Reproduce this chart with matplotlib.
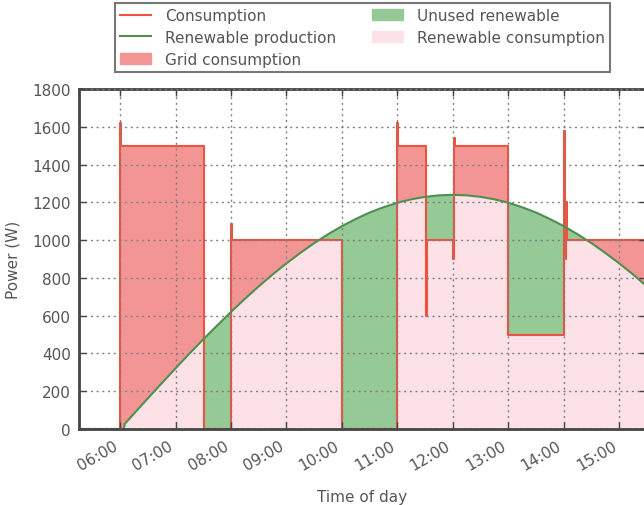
import numpy as np
import matplotlib
matplotlib.use("Agg")
import matplotlib.pyplot as plt
from matplotlib.lines import Line2D
from matplotlib.patches import Patch

# ---- data ----
cons_times = ["05:15", "06:00", "06:01", "07:31", "08:00", "08:01", "10:00",
              "11:00", "11:01", "11:31", "11:32", "12:00", "12:01", "12:02",
              "13:00", "14:00", "14:01", "14:02", "14:03", "15:30"]
cons_values = [0, 1620, 1500, 0, 1085, 1000, 0,
               1620, 1500, 600, 1000, 900, 1540, 1500,
               500, 1580, 900, 1200, 1000, 1000]

prod_times = ["05:15", "06:04", "06:05", "06:15", "06:30", "06:45", "07:00",
              "07:15", "07:30", "07:45", "08:00", "08:15", "08:30", "08:45",
              "09:00", "09:15", "09:30", "09:45", "10:00", "10:15", "10:30",
              "10:45", "11:00", "11:15", "11:30", "11:45", "12:00", "12:15",
              "12:30", "12:45", "13:00", "13:15", "13:30", "13:45", "14:00",
              "14:15", "14:30", "14:45", "15:00", "15:15", "15:30"]
prod_values = [0, 0, 27, 81, 162, 242, 321,
               399, 475, 548, 620, 689, 755, 818,
               877, 932, 984, 1031, 1074, 1112, 1146,
               1174, 1198, 1216, 1229, 1237, 1240, 1237,
               1229, 1216, 1198, 1174, 1146, 1112, 1074,
               1031, 984, 932, 877, 818, 755]

hour_ticks = ["06:00", "07:00", "08:00", "09:00", "10:00",
              "11:00", "12:00", "13:00", "14:00", "15:00"]
y_ticks = [0, 200, 400, 600, 800, 1000, 1200, 1400, 1600, 1800]


def to_h(s):
    h, m = s.split(":")
    return int(h) + int(m) / 60.0


ct = np.array([to_h(s) for s in cons_times])
cv = np.array(cons_values, dtype=float)
pt = np.array([to_h(s) for s in prod_times])
pv = np.array(prod_values, dtype=float)

# common fine grid for the fills
g = np.arange(ct[0], ct[-1] + 1e-9, 1 / 600.0)
g = np.union1d(g, ct)
idx = np.clip(np.searchsorted(ct, g, side="right") - 1, 0, len(cv) - 1)
c = cv[idx]
p = np.interp(g, pt, pv)

# ---- colours ----
TEXT = "#555555"
SPINE = "#444444"
RED_LINE = "#EE5340"
GREEN_LINE = "#4E8F50"
RED_FILL = "#F49595"
GREEN_FILL = "#95C995"
PINK_FILL = "#FCE1E6"

plt.rcParams["font.family"] = ["DejaVu Sans"]
plt.rcParams["font.size"] = 11

fig = plt.figure(figsize=(6.44, 5.06), dpi=100)
ax = fig.add_axes([79 / 644, (506 - 430) / 506, (646 - 79) / 644, 340 / 506])

ax.fill_between(g, 0, np.minimum(c, p), color=PINK_FILL, lw=0)
ax.fill_between(g, p, c, where=c >= p, interpolate=True, color=RED_FILL, lw=0)
ax.fill_between(g, c, p, where=p >= c, interpolate=True, color=GREEN_FILL, lw=0)

ax.step(ct, cv, where="post", color=RED_LINE, lw=1.5)
ax.plot(pt, pv, color=GREEN_LINE, lw=1.5)

ax.set_xlim(to_h("05:15") + 0.009, to_h("15:29"))
ax.set_ylim(0, 1800)
ax.set_xticks([to_h(s) for s in hour_ticks])
ax.set_xticklabels(hour_ticks, rotation=30, ha="right")
ax.set_yticks(y_ticks)
ax.set_yticklabels([str(v) for v in y_ticks])

ax.set_axisbelow(False)
ax.grid(True, color="#808080", linestyle=(0, (1.5, 2.6)), linewidth=1.0)
ax.tick_params(direction="in", top=True, right=True, length=5, width=1,
               color=SPINE, labelcolor=TEXT, labelsize=11, pad=6)
for s in ax.spines.values():
    s.set_color(SPINE)
    s.set_linewidth(2)

ax.set_xlabel("Time of day", color=TEXT, fontsize=11, labelpad=12)
ax.set_ylabel("Power (W)", color=TEXT, fontsize=11, labelpad=8)

handles = [
    Line2D([], [], color=RED_LINE, lw=1.5),
    Line2D([], [], color=GREEN_LINE, lw=1.5),
    Patch(facecolor=RED_FILL, edgecolor=RED_FILL),
    Patch(facecolor=GREEN_FILL, edgecolor=GREEN_FILL),
    Patch(facecolor=PINK_FILL, edgecolor=PINK_FILL),
]
labels = ["Consumption", "Renewable production", "Grid consumption",
          "Unused renewable", "Renewable consumption"]
leg = ax.legend(handles, labels, ncol=2, loc="lower center",
                bbox_to_anchor=(0.5, 1.05), borderaxespad=0,
                fancybox=False, frameon=True, fontsize=11,
                labelcolor=TEXT, borderpad=0.35, labelspacing=0.45,
                columnspacing=2.4, handletextpad=0.9)
leg.get_frame().set_edgecolor("#555555")
leg.get_frame().set_linewidth(1.5)

fig.savefig("out.png", dpi=100)
